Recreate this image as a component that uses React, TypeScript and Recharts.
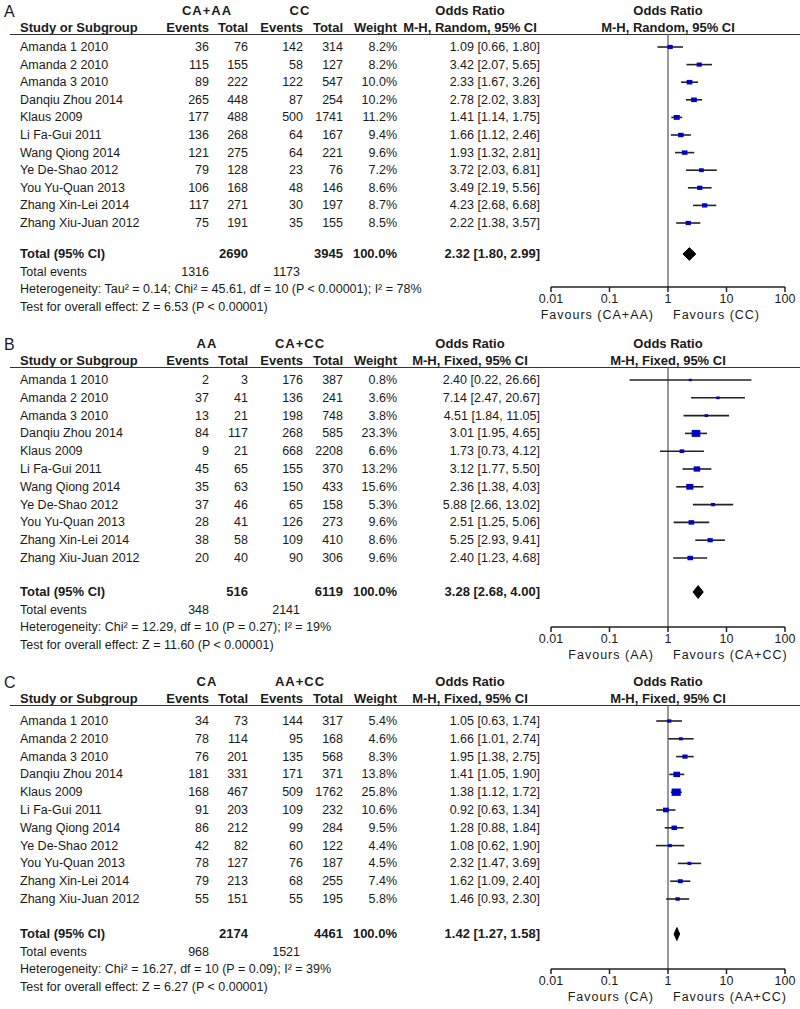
import React from 'react'
import {
  ComposedChart,
  XAxis,
  YAxis,
  Scatter,
  ErrorBar,
  Area,
  ReferenceLine,
} from 'recharts'

const studies = [
  'Amanda 1 2010',
  'Amanda 2 2010',
  'Amanda 3 2010',
  'Danqiu Zhou 2014',
  'Klaus 2009',
  'Li Fa-Gui 2011',
  'Wang Qiong 2014',
  'Ye De-Shao 2012',
  'You Yu-Quan 2013',
  'Zhang Xin-Lei 2014',
  'Zhang Xiu-Juan 2012',
]

const axisTicks = [0.01, 0.1, 1, 10, 100]

// panel A: CA+AA vs CC
const aEvents1 = [36, 115, 89, 265, 177, 136, 121, 79, 106, 117, 75]
const aTotal1 = [76, 155, 222, 448, 488, 268, 275, 128, 168, 271, 191]
const aEvents2 = [142, 58, 122, 87, 500, 64, 64, 23, 48, 30, 35]
const aTotal2 = [314, 127, 547, 254, 1741, 167, 221, 76, 146, 197, 155]
const aWeight = [8.2, 8.2, 10.0, 10.2, 11.2, 9.4, 9.6, 7.2, 8.6, 8.7, 8.5]
const aOr = [1.09, 3.42, 2.33, 2.78, 1.41, 1.66, 1.93, 3.72, 3.49, 4.23, 2.22]
const aLo = [0.66, 2.07, 1.67, 2.02, 1.14, 1.12, 1.32, 2.03, 2.19, 2.68, 1.38]
const aHi = [1.8, 5.65, 3.26, 3.83, 1.75, 2.46, 2.81, 6.81, 5.56, 6.68, 3.57]
const aTotals = [2690, 3945]
const aTotalEvents = [1316, 1173]
const aPooled = [2.32, 1.8, 2.99]

// panel B: AA vs CA+CC
const bEvents1 = [2, 37, 13, 84, 9, 45, 35, 37, 28, 38, 20]
const bTotal1 = [3, 41, 21, 117, 21, 65, 63, 46, 41, 58, 40]
const bEvents2 = [176, 136, 198, 268, 668, 155, 150, 65, 126, 109, 90]
const bTotal2 = [387, 241, 748, 585, 2208, 370, 433, 158, 273, 410, 306]
const bWeight = [0.8, 3.6, 3.8, 23.3, 6.6, 13.2, 15.6, 5.3, 9.6, 8.6, 9.6]
const bOr = [2.4, 7.14, 4.51, 3.01, 1.73, 3.12, 2.36, 5.88, 2.51, 5.25, 2.4]
const bLo = [0.22, 2.47, 1.84, 1.95, 0.73, 1.77, 1.38, 2.66, 1.25, 2.93, 1.23]
const bHi = [26.66, 20.67, 11.05, 4.65, 4.12, 5.5, 4.03, 13.02, 5.06, 9.41, 4.68]
const bTotals = [516, 6119]
const bTotalEvents = [348, 2141]
const bPooled = [3.28, 2.68, 4.0]

// panel C: CA vs AA+CC
const cEvents1 = [34, 78, 76, 181, 168, 91, 86, 42, 78, 79, 55]
const cTotal1 = [73, 114, 201, 331, 467, 203, 212, 82, 127, 213, 151]
const cEvents2 = [144, 95, 135, 171, 509, 109, 99, 60, 76, 68, 55]
const cTotal2 = [317, 168, 568, 371, 1762, 232, 284, 122, 187, 255, 195]
const cWeight = [5.4, 4.6, 8.3, 13.8, 25.8, 10.6, 9.5, 4.4, 4.5, 7.4, 5.8]
const cOr = [1.05, 1.66, 1.95, 1.41, 1.38, 0.92, 1.28, 1.08, 2.32, 1.62, 1.46]
const cLo = [0.63, 1.01, 1.38, 1.05, 1.12, 0.63, 0.88, 0.62, 1.47, 1.09, 0.93]
const cHi = [1.74, 2.74, 2.75, 1.9, 1.72, 1.34, 1.84, 1.9, 3.69, 2.4, 2.3]
const cTotals = [2174, 4461]
const cTotalEvents = [968, 1521]
const cPooled = [1.42, 1.27, 1.58]

const FONT = '"Liberation Sans", Arial, sans-serif'
const INK = '#1a1a1a'

const COL = { study: 20, ev1: 209, tot1: 248, ev2: 303, tot2: 343, weight: 397, or: 540 }

function T({ x, y, align = 'left', bold = false, size, spacing = 0, children }: any) {
  const style: React.CSSProperties = {
    position: 'absolute',
    top: y,
    whiteSpace: 'nowrap',
    fontFamily: FONT,
    fontSize: size ?? (bold ? 13 : 12.5),
    lineHeight: '14px',
    letterSpacing: spacing,
    fontWeight: bold ? 'bold' : 'normal',
    color: INK,
  }
  if (align === 'left') {
    style.left = x
    style.transform = 'translateY(-50%)'
  } else if (align === 'right') {
    style.right = 800 - x
    style.transform = 'translateY(-50%)'
  } else {
    style.left = x
    style.transform = 'translate(-50%, -50%)'
  }
  return <div style={style}>{children}</div>
}

const fmtCi = (o: number, l: number, h: number) =>
  `${o.toFixed(2)} [${l.toFixed(2)}, ${h.toFixed(2)}]`

function Panel(props: any) {
  const {
    label, group1, group2, method, lineY, row0, step, totalY, axisY,
    ev1, tot1, ev2, tot2, weight, or, lo, hi, totals, totalEvents, pooled,
    heterogeneity, overall, fav1, fav2,
  } = props

  const yMin = -(row0 - lineY) / step
  const yMax = (axisY - row0) / step
  const ty = (totalY - row0) / step

  const points = or.map((v: number, i: number) => ({
    x: v,
    y: i,
    err: [v - lo[i], hi[i] - v],
    w: weight[i],
  }))
  const diamond = [
    { x: pooled[1], band: [ty, ty] },
    { x: pooled[0], band: [ty - 0.36, ty + 0.36] },
    { x: pooled[2], band: [ty, ty] },
  ]

  return (
    <>
      <T x={4} y={lineY - 22} size={16}>{label}</T>
      <T x={207} y={lineY - 23} align="center" bold spacing={1}>{group1}</T>
      <T x={300} y={lineY - 23} align="center" bold spacing={1}>{group2}</T>
      <T x={470} y={lineY - 23} align="center" bold>Odds Ratio</T>
      <T x={668} y={lineY - 23} align="center" bold>Odds Ratio</T>
      <T x={COL.study} y={lineY - 6} bold>Study or Subgroup</T>
      <T x={COL.ev1} y={lineY - 6} align="right" bold>Events</T>
      <T x={COL.tot1} y={lineY - 6} align="right" bold>Total</T>
      <T x={COL.ev2} y={lineY - 6} align="right" bold>Events</T>
      <T x={COL.tot2} y={lineY - 6} align="right" bold>Total</T>
      <T x={COL.weight} y={lineY - 6} align="right" bold>Weight</T>
      <T x={470} y={lineY - 6} align="center" bold>{method}</T>
      <T x={668} y={lineY - 6} align="center" bold>{method}</T>
      <div
        style={{
          position: 'absolute',
          left: 10,
          width: 790,
          top: lineY,
          borderTop: '1.5px solid #333',
        }}
      />
      {studies.map((s, i) => {
        const y = row0 + i * step
        return (
          <React.Fragment key={s}>
            <T x={COL.study} y={y}>{s}</T>
            <T x={COL.ev1} y={y} align="right">{ev1[i]}</T>
            <T x={COL.tot1} y={y} align="right">{tot1[i]}</T>
            <T x={COL.ev2} y={y} align="right">{ev2[i]}</T>
            <T x={COL.tot2} y={y} align="right">{tot2[i]}</T>
            <T x={COL.weight} y={y} align="right">{weight[i].toFixed(1)}%</T>
            <T x={COL.or} y={y} align="right">{fmtCi(or[i], lo[i], hi[i])}</T>
          </React.Fragment>
        )
      })}
      <T x={COL.study} y={totalY} bold>Total (95% CI)</T>
      <T x={COL.tot1} y={totalY} align="right" bold>{totals[0]}</T>
      <T x={COL.tot2} y={totalY} align="right" bold>{totals[1]}</T>
      <T x={COL.weight} y={totalY} align="right" bold>100.0%</T>
      <T x={COL.or} y={totalY} align="right" bold>{fmtCi(pooled[0], pooled[1], pooled[2])}</T>
      <T x={COL.study} y={totalY + 17.5}>Total events</T>
      <T x={COL.ev1} y={totalY + 17.5} align="right">{totalEvents[0]}</T>
      <T x={300} y={totalY + 17.5} align="right">{totalEvents[1]}</T>
      <T x={COL.study} y={totalY + 35}>{heterogeneity}</T>
      <T x={COL.study} y={totalY + 52.5}>{overall}</T>
      <T x={654} y={axisY + 28} align="right" spacing={1}>{fav1}</T>
      <T x={673} y={axisY + 28} spacing={1}>{fav2}</T>

      <div style={{ position: 'absolute', left: 0, top: lineY }}>
        <ComposedChart
          width={800}
          height={axisY - lineY + 40}
          margin={{ top: 0, right: 15, bottom: 0, left: 551 }}
        >
          <XAxis
            type="number"
            dataKey="x"
            scale="log"
            domain={[0.01, 100]}
            ticks={axisTicks}
            allowDataOverflow
            height={40}
            tickSize={5}
            tickFormatter={(v: number) => String(v)}
            stroke="#222"
            strokeWidth={1.5}
            tick={{ fill: INK, fontSize: 12.5, fontFamily: FONT }}
          />
          <YAxis type="number" dataKey="y" domain={[yMin, yMax]} reversed hide allowDataOverflow />
          <ReferenceLine x={1} stroke="#555" strokeWidth={1.2} />
          <Area
            data={diamond}
            dataKey="band"
            type="linear"
            fill="#000"
            fillOpacity={1}
            stroke="#000"
            dot={false}
            activeDot={false}
            isAnimationActive={false}
          />
          <Scatter
            data={points}
            isAnimationActive={false}
            shape={(p: any) => {
              const s = Math.max(3, 1.8 * Math.sqrt(p.payload.w))
              return (
                <rect
                  x={p.cx - s / 2}
                  y={p.cy - s * 0.4}
                  width={s}
                  height={s * 0.8}
                  fill="#0000c8"
                />
              )
            }}
          >
            <ErrorBar dataKey="err" direction="x" width={0} stroke="#222" strokeWidth={1.6} />
          </Scatter>
        </ComposedChart>
      </div>
    </>
  )
}

export default function App() {
  return (
    <div
      style={{
        position: 'absolute',
        left: 0,
        top: 0,
        width: 800,
        height: 1009,
        background: '#fff',
      }}
    >
      <Panel
        label="A"
        group1="CA+AA"
        group2="CC"
        method="M-H, Random, 95% CI"
        lineY={34}
        row0={47}
        step={17.6}
        totalY={254}
        axisY={287}
        ev1={aEvents1}
        tot1={aTotal1}
        ev2={aEvents2}
        tot2={aTotal2}
        weight={aWeight}
        or={aOr}
        lo={aLo}
        hi={aHi}
        totals={aTotals}
        totalEvents={aTotalEvents}
        pooled={aPooled}
        heterogeneity="Heterogeneity: Tau² = 0.14; Chi² = 45.61, df = 10 (P < 0.00001); I² = 78%"
        overall="Test for overall effect: Z = 6.53 (P < 0.00001)"
        fav1="Favours (CA+AA)"
        fav2="Favours (CC)"
      />
      <Panel
        label="B"
        group1="AA"
        group2="CA+CC"
        method="M-H, Fixed, 95% CI"
        lineY={367}
        row0={380}
        step={17.8}
        totalY={592}
        axisY={627}
        ev1={bEvents1}
        tot1={bTotal1}
        ev2={bEvents2}
        tot2={bTotal2}
        weight={bWeight}
        or={bOr}
        lo={bLo}
        hi={bHi}
        totals={bTotals}
        totalEvents={bTotalEvents}
        pooled={bPooled}
        heterogeneity="Heterogeneity: Chi² = 12.29, df = 10 (P = 0.27); I² = 19%"
        overall="Test for overall effect: Z = 11.60 (P < 0.00001)"
        fav1="Favours (AA)"
        fav2="Favours (CA+CC)"
      />
      <Panel
        label="C"
        group1="CA"
        group2="AA+CC"
        method="M-H, Fixed, 95% CI"
        lineY={705}
        row0={721}
        step={17.8}
        totalY={934}
        axisY={969}
        ev1={cEvents1}
        tot1={cTotal1}
        ev2={cEvents2}
        tot2={cTotal2}
        weight={cWeight}
        or={cOr}
        lo={cLo}
        hi={cHi}
        totals={cTotals}
        totalEvents={cTotalEvents}
        pooled={cPooled}
        heterogeneity="Heterogeneity: Chi² = 16.27, df = 10 (P = 0.09); I² = 39%"
        overall="Test for overall effect: Z = 6.27 (P < 0.00001)"
        fav1="Favours (CA)"
        fav2="Favours (AA+CC)"
      />
    </div>
  )
}
